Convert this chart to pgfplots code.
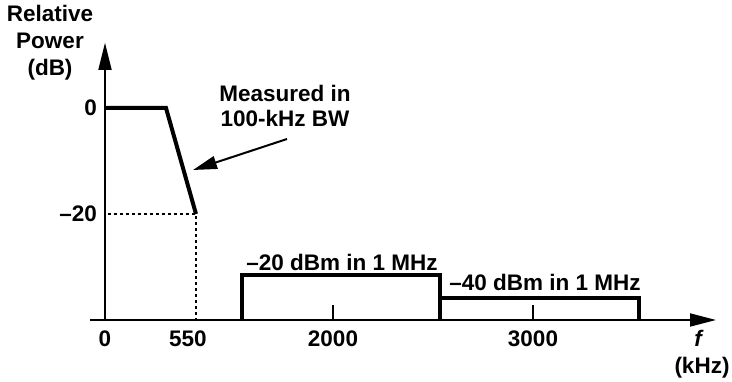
\documentclass[border=0pt]{standalone}
\usepackage{pgfplots}
\pgfplotsset{compat=1.18}
\usepackage{fontspec}
\setmainfont{Liberation Sans}
\usetikzlibrary{arrows.meta}
\begin{document}
\begin{tikzpicture}[font=\fontsize{22.5}{26}\selectfont\bfseries]
\useasboundingbox (0,0) rectangle (732pt,382pt);
\begin{axis}[
  at={(105pt,274pt)}, anchor=origin,
  x=1pt, y=5.3pt,
  xmin=-15, xmax=611, ymin=-40, ymax=12.3,
  clip=false,
  axis lines=left, axis line style={draw=none},
  tick label style={font=\fontsize{22.5}{26}\selectfont\bfseries},
  xtick={228,428}, xticklabels={2000,3000},
  extra x ticks={0,83}, extra x tick labels={0,550},
  extra x tick style={major tick length=0pt},
  major tick length=15pt, tick align=inside,
  x tick style={black, line width=1.2pt},
  xticklabel style={anchor=north, inner sep=0pt, yshift=-11pt},
  ytick={-20,0}, yticklabels={{–20},{0}},
  y tick style={draw=none},
  yticklabel style={anchor=east, inner sep=0pt, xshift=7pt},
]
% axes
\draw[line width=1.8pt, -{Triangle[length=26pt,width=13pt]}] (axis cs:-15,-40) -- (axis cs:611,-40);
\draw[line width=1.8pt, -{Triangle[length=27pt,width=13pt]}] (axis cs:0,-40) -- (axis cs:0,12.3);
% dashed guides
\addplot[black, line width=1.3pt, dash pattern=on 3pt off 3pt] coordinates {(3,-20) (91,-20) (91,-40)};
% mask
\addplot[black, line width=4pt, line join=miter] coordinates {(0,0) (61,0) (91,-20)};
\addplot[black, line width=4pt, line join=miter] coordinates {(137,-40) (137,-31.5) (335,-31.5) (335,-40)};
\addplot[black, line width=4pt, line join=miter] coordinates {(335,-35.8) (534,-35.8) (534,-40)};
% annotations
\draw[line width=2pt, -{Triangle[length=24pt,width=13pt]}] (axis cs:182,-5.85) -- (axis cs:88,-11.7);
\node[align=center, font=\fontsize{22.5}{25}\selectfont\bfseries] at (axis cs:180,0.47) {Measured in\\100-kHz BW};
\node at (axis cs:237,-29.1) {–20 dBm in 1 MHz};
\node at (axis cs:440,-33.0) {–40 dBm in 1 MHz};
\end{axis}
\node[align=center, font=\fontsize{22.5}{27}\selectfont\bfseries] at (50pt,339pt) {Relative\\Power\\(dB)};
\node at (699pt,44pt) {\textit{f}};
\node at (702pt,14pt) {(kHz)};
\end{tikzpicture}
\end{document}
